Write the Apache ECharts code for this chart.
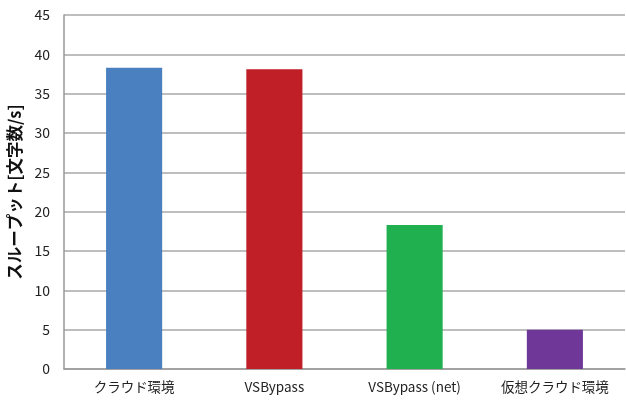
<!DOCTYPE html>
<html>
<head>
<meta charset="utf-8">
<script src="https://cdn.jsdelivr.net/npm/echarts@6/dist/echarts.min.js"></script>
<style>
  html, body { margin: 0; padding: 0; background: #fff; }
  #chart { width: 626px; height: 402px; }
</style>
</head>
<body>
<div id="chart"></div>
<script>
const categories = ['クラウド環境', 'VSBypass', 'VSBypass (net)', '仮想クラウド環境'];
const throughput = [38.3, 38.1, 18.3, 5.0];
const barColors = ['#4a80c0', '#c01f28', '#21b050', '#6f3898'];

const font = '"Noto Sans CJK JP", "Noto Sans", sans-serif';
const chart = echarts.init(document.getElementById('chart'));

chart.setOption({
    animation: false,
    grid: { left: 64, right: 1, top: 15, bottom: 33, outerBoundsMode: 'none' },
    xAxis: {
        type: 'category',
        data: categories,
        axisLine: { lineStyle: { color: '#999', width: 1.5 } },
        axisTick: { show: false },
        axisLabel: { color: '#222', fontSize: 13.5, fontFamily: font, margin: 11, interval: 0 }
    },
    yAxis: {
        type: 'value',
        min: 0,
        max: 45,
        interval: 5,
        name: 'スループット[文字数/s]',
        nameLocation: 'middle',
        nameGap: 41,
        nameTextStyle: { color: '#111', fontSize: 16.5, fontWeight: 'bold', fontFamily: font },
        axisLine: { show: true, lineStyle: { color: '#999', width: 1.5 } },
        axisTick: { show: false },
        axisLabel: { color: '#222', fontSize: 14, fontFamily: font, margin: 14 },
        splitLine: { lineStyle: { color: '#a8a8a8', width: 1.5 } }
    },
    series: [{
        type: 'bar',
        barWidth: '40%',
        data: throughput.map((v, i) => ({ value: v, itemStyle: { color: barColors[i] } }))
    }]
});
</script>
</body>
</html>
